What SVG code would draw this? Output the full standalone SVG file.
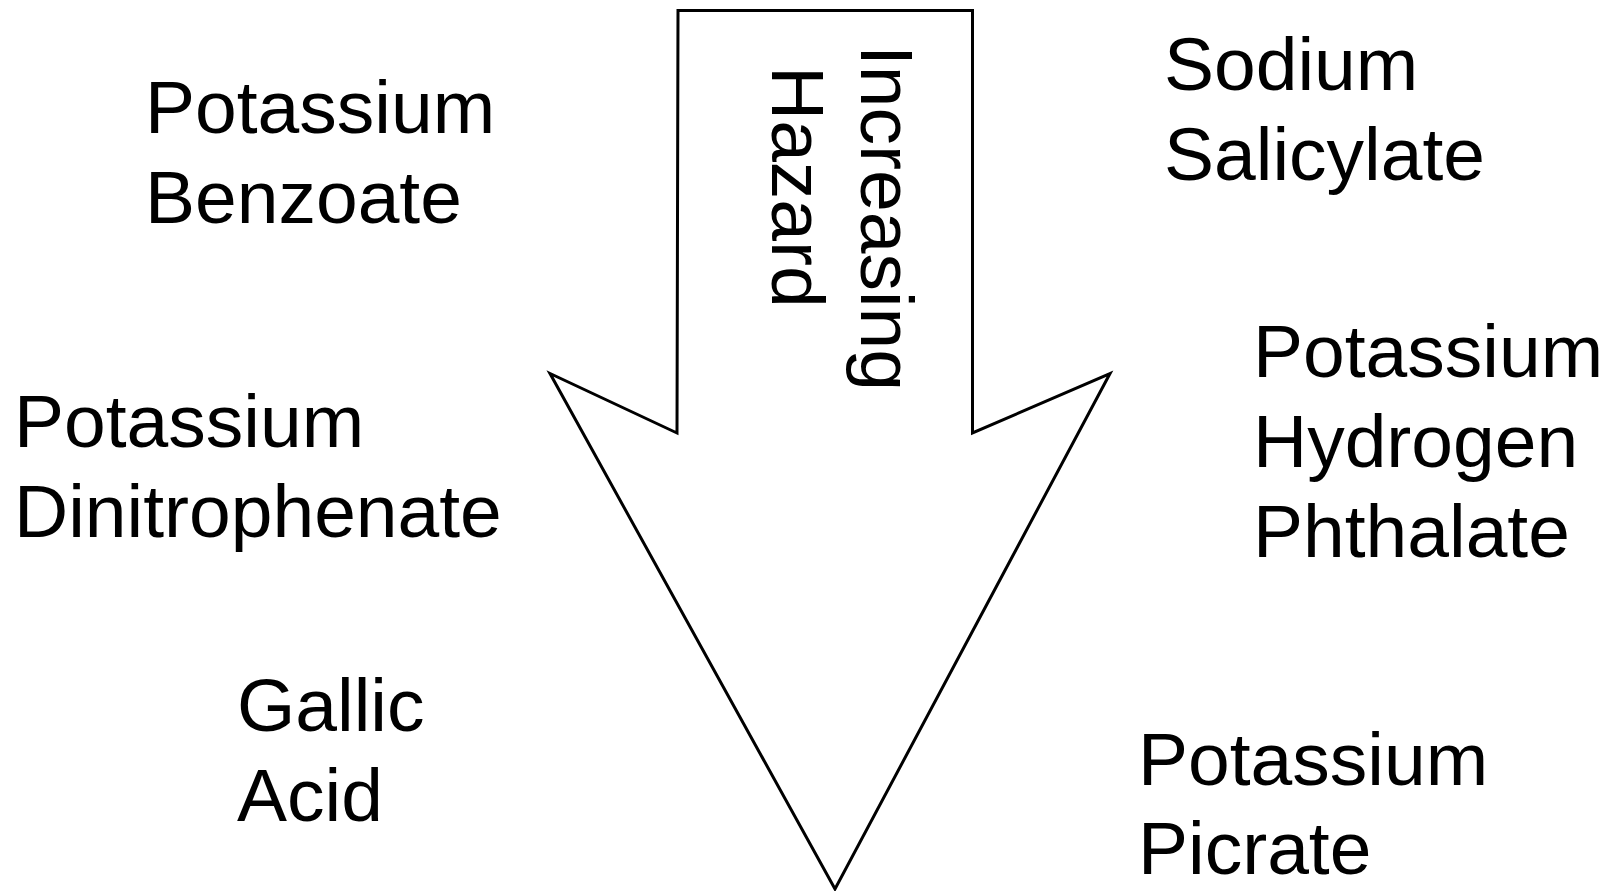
<svg xmlns="http://www.w3.org/2000/svg" width="1605" height="891" viewBox="0 0 1605 891">
  <style>
    .lbl { font-family: "Liberation Sans", Arial, sans-serif; font-size: 75px; fill: #000; }
    .arrow { fill: #fff; stroke: #000; stroke-width: 3; stroke-linejoin: miter; }
  </style>
  <rect width="1605" height="891" fill="#fff"/>

  <!-- Big downward block arrow -->
  <g id="connectors">
    <path class="arrow" d="M678 10.5 L972.5 10.5 L972.5 433 L1110 373.5 L835 889 L550 373.5 L677 433 Z"/>
  </g>

  <!-- Vertical caption inside the arrow shaft -->
  <g id="caption">
    <text class="lbl" transform="translate(861 45) rotate(90)">Increasing</text>
    <text class="lbl" transform="translate(772 66) rotate(90)">Hazard</text>
  </g>

  <!-- Left column -->
  <g id="potassium-benzoate">
    <text class="lbl" x="145" y="133">Potassium</text>
    <text class="lbl" x="145" y="223">Benzoate</text>
  </g>
  <g id="potassium-dinitrophenate">
    <text class="lbl" x="14" y="447">Potassium</text>
    <text class="lbl" x="14" y="537">Dinitrophenate</text>
  </g>
  <g id="gallic-acid">
    <text class="lbl" x="237" y="731">Gallic</text>
    <text class="lbl" x="237" y="821">Acid</text>
  </g>

  <!-- Right column -->
  <g id="sodium-salicylate">
    <text class="lbl" x="1164" y="90">Sodium</text>
    <text class="lbl" x="1164" y="180">Salicylate</text>
  </g>
  <g id="potassium-hydrogen-phthalate">
    <text class="lbl" x="1253" y="377">Potassium</text>
    <text class="lbl" x="1253" y="467">Hydrogen</text>
    <text class="lbl" x="1253" y="557">Phthalate</text>
  </g>
  <g id="potassium-picrate">
    <text class="lbl" x="1138" y="785">Potassium</text>
    <text class="lbl" x="1138" y="874">Picrate</text>
  </g>
</svg>
